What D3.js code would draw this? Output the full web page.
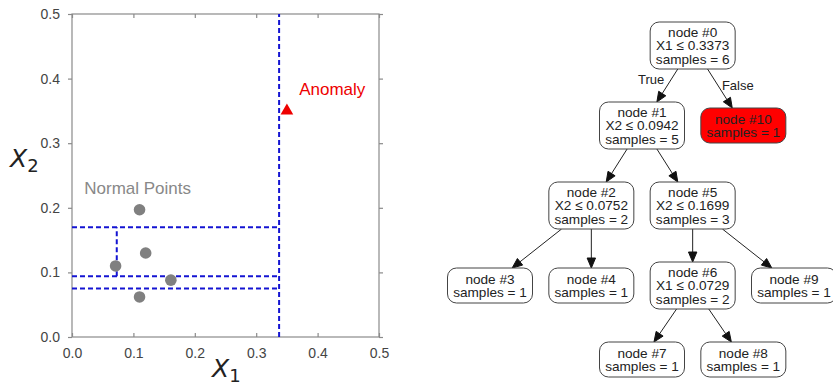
<!DOCTYPE html>
<html lang="en">
<head>
<meta charset="UTF-8">
<title>Isolation tree split</title>
<style>
  body { margin: 0; background: #fff; }
  svg { display: block; font-family: "Liberation Sans", Arial, sans-serif; }
</style>
</head>
<body>
<div id="chart"></div>
<script src="https://cdn.jsdelivr.net/npm/d3@7"></script>
<script>
// scatter data
const normalX = [0.11, 0.12, 0.071, 0.161, 0.11];
const normalY = [0.197, 0.13, 0.11, 0.088, 0.062];
const anomalyX = [0.35];
const anomalyY = [0.35];
const axisTicks = [0, 0.1, 0.2, 0.3, 0.4, 0.5];

// split lines: [x1, y1, x2, y2] in data units
const splitLines = [
  [0.3373, 0, 0.3373, 0.5],
  [0, 0.0942, 0.3373, 0.0942],
  [0, 0.0752, 0.3373, 0.0752],
  [0, 0.1699, 0.3373, 0.1699],
  [0.0729, 0.0942, 0.0729, 0.1699]
];

// tree data
const nodeIds = [0, 1, 2, 3, 4, 5, 6, 7, 8, 9, 10];
const nodeParents = [null, 0, 1, 2, 2, 1, 5, 6, 6, 5, 0];
const nodeSplits = ["X1 ≤ 0.3373", "X2 ≤ 0.0942", "X2 ≤ 0.0752", null, null,
                    "X2 ≤ 0.1699", "X1 ≤ 0.0729", null, null, null, null];
const nodeSamples = [6, 5, 2, 1, 1, 3, 2, 1, 1, 1, 1];
const nodeCols = [4, 3, 2, 0, 2, 4, 4, 3, 5, 6, 5];
const anomalyNodes = [10];
const edgeLabels = { 1: "True", 10: "False" };

const width = 833, height = 387;
const svg = d3.select("#chart").append("svg")
  .attr("width", width).attr("height", height);

// ---------- left panel ----------
const x = d3.scaleLinear().domain([0, 0.5]).range([72, 379]);
const y = d3.scaleLinear().domain([0, 0.5]).range([337, 14]);
const frame = "#8a8a8a";

svg.append("rect")
  .attr("x", x(0)).attr("y", y(0.5))
  .attr("width", x(0.5) - x(0)).attr("height", y(0) - y(0.5))
  .attr("fill", "none").attr("stroke", frame).attr("stroke-width", 1.2);

function styleAxis(g) {
  g.select(".domain").remove();
  g.selectAll(".tick line").attr("stroke", frame).attr("stroke-width", 1.2);
  g.selectAll(".tick text").attr("fill", "#444").attr("font-size", 14)
    .attr("font-family", "Liberation Sans, Arial, sans-serif");
}
const fmt = d3.format(".1f");

svg.append("g").attr("transform", `translate(${x(0)},0)`)
  .call(d3.axisLeft(y).tickValues(axisTicks).tickFormat(fmt).tickSize(4).tickPadding(8))
  .call(styleAxis);
svg.append("g").attr("transform", `translate(0,${y(0)})`)
  .call(d3.axisBottom(x).tickValues(axisTicks).tickFormat(fmt).tickSize(-4).tickPadding(11))
  .call(styleAxis);
svg.append("g").attr("transform", `translate(0,${y(0.5)})`)
  .call(d3.axisTop(x).tickValues(axisTicks).tickFormat("").tickSize(-4))
  .call(styleAxis);
svg.append("g").attr("transform", `translate(${x(0.5)},0)`)
  .call(d3.axisRight(y).tickValues(axisTicks).tickFormat("").tickSize(4))
  .call(styleAxis);

// dashed split lines
svg.append("g").selectAll("line").data(splitLines).join("line")
  .attr("x1", d => x(d[0])).attr("y1", d => y(d[1]))
  .attr("x2", d => x(d[2])).attr("y2", d => y(d[3]))
  .attr("stroke", "#1414d2").attr("stroke-width", 2)
  .attr("stroke-dasharray", "5,3");

// normal points
svg.append("g").selectAll("circle").data(normalX).join("circle")
  .attr("cx", d => x(d)).attr("cy", (d, i) => y(normalY[i]))
  .attr("r", 5.8).attr("fill", "#808080");

// anomaly
svg.append("g").selectAll("path").data(anomalyX).join("path")
  .attr("transform", (d, i) => `translate(${x(d)},${y(anomalyY[i])})`)
  .attr("d", d3.symbol(d3.symbolTriangle, 70))
  .attr("fill", "#ee0000");

svg.append("text").attr("x", x(0.37)).attr("y", y(0.374))
  .attr("fill", "#ee0000").attr("font-size", 17).text("Anomaly");
svg.append("text").attr("x", x(0.02)).attr("y", y(0.222))
  .attr("fill", "#888").attr("font-size", 17).text("Normal Points");

// axis titles
function axisTitle(px, py, sub) {
  const t = svg.append("text").attr("x", px).attr("y", py)
    .attr("fill", "#222").attr("font-family", "DejaVu Sans, sans-serif");
  t.append("tspan").attr("font-size", 25).attr("font-style", "italic").text("X");
  t.append("tspan").attr("font-size", 18).attr("dy", 5).text(sub);
}
axisTitle(212, 377, "1");
axisTitle(10, 167, "2");

// ---------- right panel: tree ----------
const col = d3.scaleLinear().domain([0, 6]).range([490, 794]);
const boxW = 85, lineH = 13.3, rankGap = 33, treeTop = 22;

const nodes = nodeIds.map((id, i) => {
  const lines = ["node #" + id];
  if (nodeSplits[i]) lines.push(nodeSplits[i]);
  lines.push("samples = " + nodeSamples[i]);
  return { id, parent: nodeParents[i], lines, col: nodeCols[i], h: lines.length === 3 ? 47 : 35 };
});
const byId = new Map(nodes.map(n => [n.id, n]));
nodes.forEach(n => {
  let d = 0, p = n.parent;
  while (p !== null) { d++; p = byId.get(p).parent; }
  n.depth = d;
});
const maxDepth = d3.max(nodes, n => n.depth);
const rankCenter = [];
let rankTop = treeTop;
for (let d = 0; d <= maxDepth; d++) {
  const mh = d3.max(nodes.filter(n => n.depth === d), n => n.h);
  rankCenter.push(rankTop + mh / 2);
  rankTop += mh + rankGap;
}
nodes.forEach(n => { n.cx = col(n.col); n.cy = rankCenter[n.depth]; });

// clip a segment from the node center toward point p at the box boundary
function clip(n, px, py) {
  const dx = px - n.cx, dy = py - n.cy;
  const tx = dx === 0 ? Infinity : (boxW / 2) / Math.abs(dx);
  const ty = dy === 0 ? Infinity : (n.h / 2) / Math.abs(dy);
  const t = Math.min(tx, ty);
  return [n.cx + dx * t, n.cy + dy * t];
}

const edges = nodes.filter(n => n.parent !== null).map(n => {
  const p = byId.get(n.parent);
  const a = clip(p, n.cx, n.cy);
  const b = clip(n, p.cx, p.cy);
  return { child: n, a, b };
});

const eg = svg.append("g");
edges.forEach(e => {
  const [x1, y1] = e.a, [x2, y2] = e.b;
  const ang = Math.atan2(y2 - y1, x2 - x1);
  const L = 10, W = 4.2;
  const bx = x2 - L * Math.cos(ang), by = y2 - L * Math.sin(ang);
  eg.append("line").attr("x1", x1).attr("y1", y1).attr("x2", bx).attr("y2", by)
    .attr("stroke", "#222").attr("stroke-width", 1);
  const px = -Math.sin(ang) * W, py = Math.cos(ang) * W;
  eg.append("path")
    .attr("d", `M${x2},${y2}L${bx + px},${by + py}L${bx - px},${by - py}Z`)
    .attr("fill", "#111").attr("stroke", "#111").attr("stroke-width", 1);
  const lab = edgeLabels[e.child.id];
  if (lab) {
    const mx = (x1 + x2) / 2, my = (y1 + y2) / 2;
    const left = x2 < x1;
    eg.append("text")
      .attr("x", left ? mx - 3 : mx + 2).attr("y", left ? my - 2 : my + 1.5)
      .attr("text-anchor", left ? "end" : "start")
      .attr("font-size", 13).attr("fill", "#222").text(lab);
  }
});

const ng = svg.append("g").selectAll("g").data(nodes).join("g")
  .attr("transform", d => `translate(${d.cx},${d.cy})`);
ng.append("rect")
  .attr("x", -boxW / 2).attr("y", d => -d.h / 2)
  .attr("width", boxW).attr("height", d => d.h)
  .attr("rx", 9).attr("ry", 9)
  .attr("fill", d => anomalyNodes.includes(d.id) ? "#ff0000" : "#fff")
  .attr("stroke", "#444").attr("stroke-width", 1);
ng.append("text")
  .attr("text-anchor", "middle")
  .attr("font-size", 13.6).attr("fill", "#222")
  .attr("y", d => -(d.lines.length - 1) / 2 * lineH)
  .selectAll("tspan").data(d => d.lines).join("tspan")
  .attr("x", 0)
  .attr("dy", (s, i) => i === 0 ? "0.36em" : lineH)
  .text(s => s);
</script>
</body>
</html>
